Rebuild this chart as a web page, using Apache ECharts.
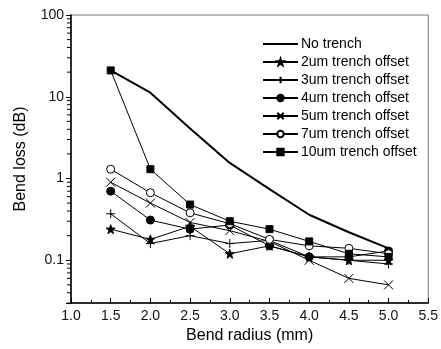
<!DOCTYPE html>
<html>
<head>
<meta charset="utf-8">
<script src="https://cdn.jsdelivr.net/npm/echarts@6/dist/echarts.min.js"></script>
<style>
  html, body { margin: 0; padding: 0; background: #fff; }
  #chart { width: 441px; height: 349px; }
</style>
</head>
<body>
<div id="chart"></div>
<script>
const radius = [1.5, 2.0, 2.5, 3.0, 3.5, 4.0, 4.5, 5.0];
const noTrench = [21, 11.2, 4.1, 1.55, 0.74, 0.36, 0.22, 0.14];
const off2 = [0.24, 0.18, 0.26, 0.12, 0.15, 0.11, 0.10, 0.10];
const off3 = [0.37, 0.16, 0.20, 0.16, 0.175, 0.11, 0.10, 0.09];
const off4 = [0.70, 0.31, 0.24, 0.27, 0.15, 0.11, 0.11, 0.13];
const off5 = [0.90, 0.50, 0.29, 0.23, 0.17, 0.10, 0.06, 0.05];
const off7 = [1.3, 0.67, 0.38, 0.28, 0.18, 0.15, 0.14, 0.12];
const off10 = [21, 1.3, 0.48, 0.30, 0.24, 0.17, 0.12, 0.11];
const minorY = [0.03, 0.04, 0.05, 0.06, 0.07, 0.08, 0.09,
  0.2, 0.3, 0.4, 0.5, 0.6, 0.7, 0.8, 0.9,
  2, 3, 4, 5, 6, 7, 8, 9,
  20, 30, 40, 50, 60, 70, 80, 90];

const STAR = 'path://M0,-10 L2.35,-3.24 L9.51,-3.09 L3.8,1.24 L5.88,8.09 L0,4 L-5.88,8.09 L-3.8,1.24 L-9.51,-3.09 L-2.35,-3.24 Z';
const PLUS = 'path://M-5,0 L5,0 M0,-5 L0,5';
const CROSS = 'path://M-5,-5 L5,5 M-5,5 L5,-5';

const font = 'Liberation Sans, Arial, sans-serif';

function pairs(vals) {
  return radius.map((r, i) => [r, vals[i]]);
}

function lineSeries(name, vals, symbol, size, style) {
  return {
    name: name,
    type: 'line',
    data: pairs(vals),
    symbol: symbol,
    symbolSize: size,
    lineStyle: { color: '#000', width: 1 },
    itemStyle: Object.assign({ color: '#000', borderColor: '#000', borderWidth: 1 }, style || {}),
    emphasis: { disabled: true },
    z: 3
  };
}

const chart = echarts.init(document.getElementById('chart'));
chart.setOption({
  animation: false,
  textStyle: { fontFamily: font },
  grid: {
    left: 71, right: 8, top: 15, bottom: 46,
    show: true, borderColor: '#777', borderWidth: 1
  },
  legend: {
    left: 257, top: 32,
    orient: 'vertical',
    itemWidth: 35, itemHeight: 8, itemGap: 4,
    textStyle: { fontSize: 14, color: '#000', fontFamily: font, padding: [0, 0, 0, -2] },
    data: [
      { name: 'No trench', itemStyle: { color: 'rgba(0,0,0,0)', borderWidth: 0 } },
      '2um trench offset', '3um trench offset', '4um trench offset',
      '5um trench offset', '7um trench offset', '10um trench offset'
    ]
  },
  xAxis: {
    type: 'value',
    min: 1, max: 5.5, interval: 0.5,
    name: 'Bend radius (mm)',
    nameLocation: 'middle', nameGap: 22,
    nameTextStyle: { fontSize: 16, color: '#000', fontFamily: font },
    axisLine: { lineStyle: { color: '#000', width: 1.5 } },
    axisTick: { inside: true, length: 5, lineStyle: { color: '#000' } },
    minorTick: { show: true, splitNumber: 2, length: 3, lineStyle: { color: '#000' } },
    axisLabel: { fontSize: 14, color: '#111', margin: 6, formatter: v => v.toFixed(1) },
    splitLine: { show: false }
  },
  yAxis: {
    type: 'log',
    min: 0.03, max: 100,
    name: 'Bend loss (dB)',
    nameLocation: 'middle', nameGap: 42,
    nameTextStyle: { fontSize: 16, color: '#000', fontFamily: font },
    axisLine: { lineStyle: { color: '#000', width: 1.5 } },
    axisTick: { inside: false, length: 5, lineStyle: { color: '#000' } },
    axisLabel: {
      fontSize: 14, color: '#111', margin: 7,
      formatter: function (v) {
        const l = Math.log10(v);
        return Math.abs(l - Math.round(l)) < 1e-6 ? String(v) : '';
      }
    },
    splitLine: { show: false }
  },
  series: [
    {
      name: 'minor',
      type: 'custom',
      data: minorY.map(v => [1, v]),
      silent: true,
      clip: false,
      renderItem: function (params, api) {
        const p = api.coord([api.value(0), api.value(1)]);
        return {
          type: 'line',
          shape: { x1: p[0] - 4, y1: p[1], x2: p[0], y2: p[1] },
          style: { stroke: '#000', lineWidth: 1 }
        };
      },
      z: 5
    },
    Object.assign(lineSeries('No trench', noTrench, 'none', 0), {
      lineStyle: { color: '#000', width: 2 }
    }),
    lineSeries('2um trench offset', off2, STAR, 9),
    lineSeries('3um trench offset', off3, PLUS, 9, { color: 'rgba(0,0,0,0)' }),
    lineSeries('4um trench offset', off4, 'circle', 8),
    lineSeries('5um trench offset', off5, CROSS, 9, { color: 'rgba(0,0,0,0)' }),
    lineSeries('7um trench offset', off7, 'circle', 8, { color: '#fff' }),
    lineSeries('10um trench offset', off10, 'rect', 7)
  ]
});
</script>
</body>
</html>
